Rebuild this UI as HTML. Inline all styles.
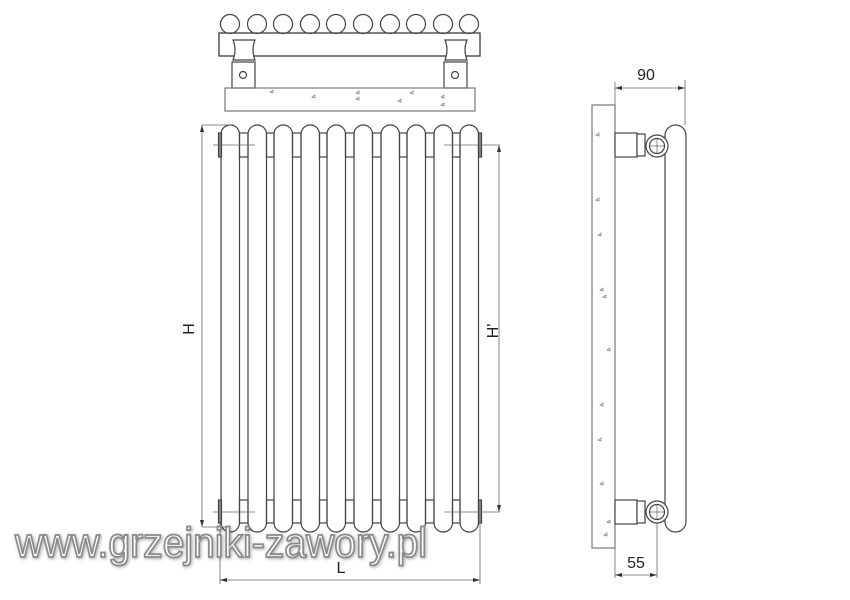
<!DOCTYPE html>
<html><head><meta charset="utf-8"><style>
html,body{margin:0;padding:0;background:#fff;}
svg{display:block;}
</style></head><body>
<svg width="850" height="600" viewBox="0 0 850 600" xmlns="http://www.w3.org/2000/svg" font-family="Liberation Sans, sans-serif">
<defs>
<filter id="sh" x="-5%" y="-20%" width="110%" height="140%"><feGaussianBlur in="SourceAlpha" stdDeviation="1.5"/><feOffset dx="1" dy="1"/><feComponentTransfer><feFuncA type="linear" slope="0.35"/></feComponentTransfer><feMerge><feMergeNode/><feMergeNode in="SourceGraphic"/></feMerge></filter>
</defs>
<g fill="none" stroke="#444" stroke-width="1.2">
<!-- TOP VIEW -->
<rect x="219" y="33" width="261" height="23" fill="#fff"/>
<g fill="#fff">
<circle cx="230" cy="24" r="9.5"/><circle cx="257" cy="24" r="9.5"/><circle cx="283" cy="24" r="9.5"/><circle cx="310" cy="24" r="9.5"/><circle cx="336" cy="24" r="9.5"/><circle cx="363" cy="24" r="9.5"/><circle cx="390" cy="24" r="9.5"/><circle cx="416" cy="24" r="9.5"/><circle cx="443" cy="24" r="9.5"/><circle cx="469" cy="24" r="9.5"/>
</g>
<rect x="219" y="33" width="261" height="23" fill="none"/>
<path d="M233 40 Q237 50 233 60 L255 60 Q251 50 255 40 Z" fill="#fff"/>
<path d="M445 40 Q449 50 445 60 L467 60 Q463 50 467 40 Z" fill="#fff"/>
<rect x="232" y="62" width="23" height="26" fill="#fff"/>
<rect x="444" y="62" width="23" height="26" fill="#fff"/>
<circle cx="243" cy="75" r="3.5"/><circle cx="455" cy="75" r="3.5"/>
<rect x="225" y="88" width="250" height="23" stroke="#777"/>
<!-- FRONT VIEW columns -->
<g fill="#fff">
<rect x="221" y="125" width="18.5" height="407" rx="9.2"/>
<rect x="248" y="125" width="18.5" height="407" rx="9.2"/>
<rect x="274" y="125" width="18.5" height="407" rx="9.2"/>
<rect x="301" y="125" width="18.5" height="407" rx="9.2"/>
<rect x="327" y="125" width="18.5" height="407" rx="9.2"/>
<rect x="354" y="125" width="18.5" height="407" rx="9.2"/>
<rect x="381" y="125" width="18.5" height="407" rx="9.2"/>
<rect x="407" y="125" width="18.5" height="407" rx="9.2"/>
<rect x="434" y="125" width="18.5" height="407" rx="9.2"/>
<rect x="460" y="125" width="18.5" height="407" rx="9.2"/>
</g>
<g>
<rect x="239.5" y="133" width="8.5" height="24"/><rect x="266.5" y="133" width="7.5" height="24"/><rect x="292.5" y="133" width="8.5" height="24"/><rect x="319.5" y="133" width="7.5" height="24"/><rect x="345.5" y="133" width="8.5" height="24"/><rect x="372.5" y="133" width="8.5" height="24"/><rect x="399.5" y="133" width="7.5" height="24"/><rect x="425.5" y="133" width="8.5" height="24"/><rect x="452.5" y="133" width="7.5" height="24"/>
<rect x="239.5" y="500" width="8.5" height="23"/><rect x="266.5" y="500" width="7.5" height="23"/><rect x="292.5" y="500" width="8.5" height="23"/><rect x="319.5" y="500" width="7.5" height="23"/><rect x="345.5" y="500" width="8.5" height="23"/><rect x="372.5" y="500" width="8.5" height="23"/><rect x="399.5" y="500" width="7.5" height="23"/><rect x="425.5" y="500" width="8.5" height="23"/><rect x="452.5" y="500" width="7.5" height="23"/>
</g>
<rect x="218.5" y="133" width="3" height="24" fill="#888"/>
<rect x="478.5" y="133" width="3" height="24" fill="#888"/>
<rect x="218.5" y="500" width="3" height="23" fill="#888"/>
<rect x="478.5" y="500" width="3" height="23" fill="#888"/>
</g>
<!-- dimension lines -->
<g stroke="#666" stroke-width="0.8" fill="none">
<line x1="202" y1="125" x2="232" y2="125"/>
<line x1="202" y1="125" x2="202" y2="527"/>
<line x1="202" y1="527" x2="230" y2="527"/>
<line x1="213" y1="145" x2="255" y2="145"/>
<line x1="213" y1="512" x2="255" y2="512"/>
<line x1="444" y1="145" x2="500" y2="145"/>
<line x1="444" y1="512" x2="500" y2="512"/>
<line x1="499" y1="145" x2="499" y2="512"/>
<line x1="220" y1="522" x2="220" y2="584"/>
<line x1="480" y1="522" x2="480" y2="584"/>
<line x1="220" y1="580" x2="480" y2="580"/>
<line x1="615" y1="82" x2="615" y2="105"/>
<line x1="685" y1="80" x2="685" y2="125"/>
<line x1="615" y1="88" x2="685" y2="88"/>
<line x1="615" y1="548" x2="615" y2="578"/>
<line x1="657" y1="520" x2="657" y2="578"/>
<line x1="615" y1="575" x2="657" y2="575"/>
</g>
<g fill="#333">
<path d="M202 125 l-2 7 h4z"/><path d="M202 527 l-2 -7 h4z"/>
<path d="M499 145 l-2 7 h4z"/><path d="M499 512 l-2 -7 h4z"/>
<path d="M220 580 l7 -2 v4z"/><path d="M480 580 l-7 -2 v4z"/>
<path d="M615 88 l7 -2 v4z"/><path d="M685 88 l-7 -2 v4z"/>
<path d="M615 575 l7 -2 v4z"/><path d="M657 575 l-7 -2 v4z"/>
</g>
<!-- SIDE VIEW -->
<g fill="none" stroke="#444" stroke-width="1.2">
<rect x="592" y="105" width="23" height="443" stroke="#777"/>
<rect x="665" y="125" width="21" height="407" rx="10.5" fill="#fff"/>
<rect x="615" y="133" width="22" height="24" fill="#fff"/>
<rect x="637" y="134" width="8" height="22" fill="#fff"/>
<circle cx="657" cy="146" r="11" fill="#fff"/><circle cx="657" cy="146" r="7.5"/>
<line x1="649" y1="146" x2="665" y2="146" stroke-width="0.6"/><line x1="657" y1="138" x2="657" y2="154" stroke-width="0.6"/>
<rect x="615" y="500" width="22" height="24" fill="#fff"/>
<rect x="637" y="501" width="8" height="22" fill="#fff"/>
<circle cx="657" cy="512" r="11" fill="#fff"/><circle cx="657" cy="512" r="7.5"/>
<line x1="649" y1="512" x2="665" y2="512" stroke-width="0.6"/><line x1="657" y1="504" x2="657" y2="520" stroke-width="0.6"/>
</g>
<!-- wall speckles -->
<g fill="none" stroke="#777" stroke-width="0.7">
<path d="M270 92 l3 -2 l0 3z"/><path d="M312 97 l3 -2 l0 3z"/><path d="M356 93 l3 -2 l0 3z"/><path d="M356 99 l3 -2 l0 3z"/><path d="M398 101 l3 -2 l0 3z"/><path d="M410 93 l3 -2 l0 3z"/><path d="M441 97 l3 -2 l0 3z"/><path d="M441 105 l3 -2 l0 3z"/>
<path d="M596 135 l3 -2 l0 3z"/><path d="M596 200 l3 -2 l0 3z"/><path d="M598 235 l3 -2 l0 3z"/><path d="M600 290 l3 -2 l0 3z"/><path d="M603 297 l3 -2 l0 3z"/><path d="M607 350 l3 -2 l0 3z"/><path d="M600 405 l3 -2 l0 3z"/><path d="M598 440 l3 -2 l0 3z"/><path d="M600 484 l3 -2 l0 3z"/><path d="M607 522 l3 -2 l0 3z"/><path d="M604 535 l3 -2 l0 3z"/>
</g>
<!-- labels -->
<g fill="#222" font-size="16">
<text x="646" y="80" text-anchor="middle">90</text>
<text x="636" y="568" text-anchor="middle">55</text>
<text x="341" y="573" text-anchor="middle">L</text>
<text transform="translate(194,329) rotate(-90)" text-anchor="middle">H</text>
<text transform="translate(498,331) rotate(-90)" text-anchor="middle">H'</text>
</g>
<!-- watermark -->
<text x="15" y="557" font-size="42" textLength="412" lengthAdjust="spacingAndGlyphs" fill="#fff" fill-opacity="0.9" stroke="#8a8a8a" stroke-width="1.8" filter="url(#sh)">www.grzejniki-zawory.pl</text>
</svg>
</body></html>
